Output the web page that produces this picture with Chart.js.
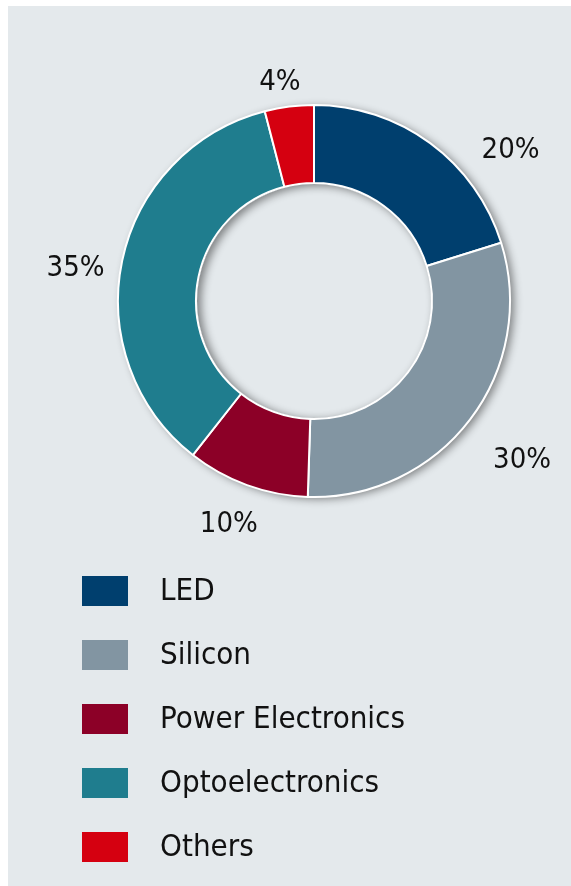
<!DOCTYPE html>
<html>
<head>
<meta charset="utf-8">
<script src="https://cdn.jsdelivr.net/npm/chart.js@4.4.1/dist/chart.umd.min.js"></script>
<style>
  html, body { margin: 0; padding: 0; background: #ffffff; }
  #panel { position: absolute; left: 8px; top: 6px; width: 563px; height: 880px; background: #e4e9ec; }
  canvas { display: block; }
</style>
</head>
<body>
<div id="panel"><canvas id="shareChart" width="563" height="880"></canvas></div>
<script>
// Market share by application
const categories = ['LED', 'Silicon', 'Power Electronics', 'Optoelectronics', 'Others'];
const shares = [20, 30, 10, 35, 4];
const shareLabels = ['20%', '30%', '10%', '35%', '4%'];
const colors = ['#003f6e', '#8295a2', '#8c0027', '#1f7d8e', '#d50010'];

const FONT = '"DejaVu Sans Condensed", "DejaVu Sans", sans-serif';

// soft drop shadow under the ring, plus the inset shadow in the hole
const ringShadow = {
  id: 'ringShadow',
  beforeDatasetsDraw(chart) {
    const arc = chart.getDatasetMeta(0).data[0];
    if (!arc) return;
    const { x, y, outerRadius, innerRadius } = arc.getProps(['x', 'y', 'outerRadius', 'innerRadius'], true);
    const ctx = chart.ctx;
    ctx.save();
    ctx.shadowColor = 'rgba(0,0,0,0.45)';
    ctx.shadowBlur = 9;
    ctx.shadowOffsetX = 4;
    ctx.shadowOffsetY = 2;
    ctx.fillStyle = '#8295a2';
    ctx.beginPath();
    ctx.arc(x, y, outerRadius, 0, Math.PI * 2);
    ctx.arc(x, y, innerRadius + 4, 0, Math.PI * 2, true);
    ctx.fill('evenodd');
    ctx.restore();
  },
  afterDatasetsDraw(chart) {
    const arc = chart.getDatasetMeta(0).data[0];
    if (!arc) return;
    const { x, y, innerRadius } = arc.getProps(['x', 'y', 'innerRadius'], true);
    const ctx = chart.ctx;
    const r = innerRadius - 1;
    ctx.save();
    ctx.beginPath();
    ctx.arc(x, y, r, 0, Math.PI * 2);
    ctx.clip();
    ctx.fillStyle = '#e4e9ec';
    ctx.fillRect(x - r, y - r, r * 2, r * 2);
    ctx.shadowColor = 'rgba(0,0,0,0.45)';
    ctx.shadowBlur = 9;
    ctx.shadowOffsetX = 4;
    ctx.shadowOffsetY = 2;
    ctx.beginPath();
    ctx.arc(x, y, r + 40, 0, Math.PI * 2);
    ctx.arc(x, y, r, 0, Math.PI * 2, true);
    ctx.fill('evenodd');
    ctx.restore();
  }
};

// percentage labels outside each slice
const outsideLabels = {
  id: 'outsideLabels',
  afterDraw(chart, args, opts) {
    const ctx = chart.ctx;
    ctx.save();
    ctx.font = opts.font;
    ctx.fillStyle = opts.color;
    ctx.textAlign = 'center';
    ctx.textBaseline = 'middle';
    chart.getDatasetMeta(0).data.forEach((el, i) => {
      const p = el.getProps(['x', 'y', 'startAngle', 'endAngle', 'outerRadius'], true);
      const nudge = opts.nudge[i] || [0, 0];
      const a = (p.startAngle + p.endAngle) / 2 + nudge[0] * Math.PI / 180;
      const ux = Math.cos(a), uy = Math.sin(a);
      const d = p.outerRadius + opts.gap + nudge[1];
      const text = shareLabels[i];
      const w = ctx.measureText(text).width;
      const h = 22;
      ctx.fillText(text, p.x + ux * d + ux * w / 2, p.y + uy * d + uy * h / 2 + opts.dy);
    });
    ctx.restore();
  }
};

// vertical legend below the ring
const sideLegend = {
  id: 'sideLegend',
  afterDraw(chart, args, opts) {
    const ctx = chart.ctx;
    const ds = chart.data.datasets[0];
    ctx.save();
    ctx.font = opts.font;
    ctx.textBaseline = 'middle';
    chart.data.labels.forEach((lbl, i) => {
      const cy = opts.top + i * opts.step;
      ctx.fillStyle = ds.backgroundColor[i];
      ctx.fillRect(opts.left, cy - 15, 46, 30);
      ctx.fillStyle = opts.color;
      ctx.fillText(lbl, opts.textLeft, cy + 1);
    });
    ctx.restore();
  }
};

const ctx = document.getElementById('shareChart').getContext('2d');
new Chart(ctx, {
  type: 'doughnut',
  data: {
    labels: categories,
    datasets: [{
      data: shares,
      backgroundColor: colors,
      borderColor: '#ffffff',
      borderWidth: 2
    }]
  },
  options: {
    responsive: false,
    animation: false,
    radius: 196,
    cutout: '60.2%',
    layout: { padding: { left: 49, top: 0, right: 0, bottom: 290 } },
    plugins: {
      legend: { display: false },
      tooltip: { enabled: false },
      outsideLabels: {
        font: '29px ' + FONT, color: '#111111', gap: 20, dy: 6,
        nudge: { 0: [13, 14], 1: [1, 20], 2: [0, 4], 3: [-2, -3], 4: [-1, 0] }
      },
      sideLegend: { font: '31px ' + FONT, color: '#111111', left: 74, textLeft: 152, top: 585, step: 64 }
    }
  },
  plugins: [ringShadow, outsideLabels, sideLegend]
});
</script>
</body>
</html>
